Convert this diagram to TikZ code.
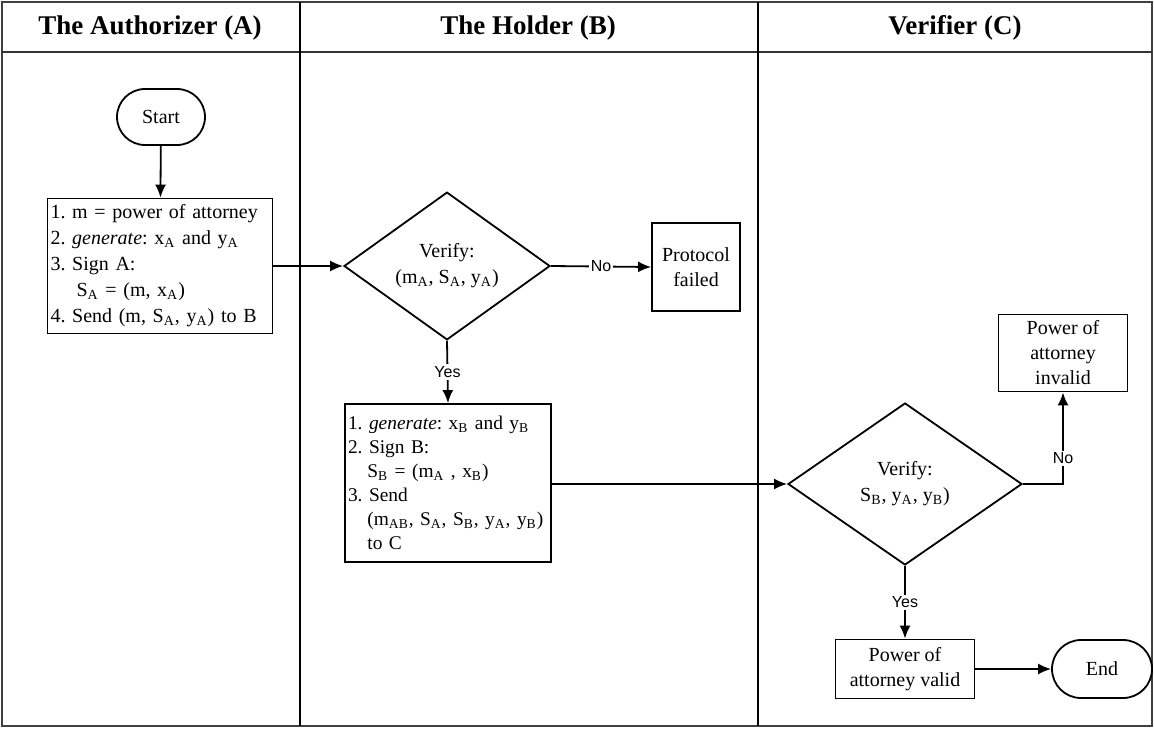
\documentclass[tikz,border=0pt]{standalone}
\usepackage{fontspec}
\setmainfont{Liberation Serif}
\setsansfont{Liberation Sans}
\usetikzlibrary{shapes.geometric,shapes.misc,arrows.meta}
\newcommand{\sbs}[1]{\textsubscript{#1}}
\begin{document}
\frenchspacing
\begin{tikzpicture}[x=0.5pt,y=-0.5pt,
  line width=0.9pt,
  box/.style={draw, rectangle, inner sep=0pt, align=center, font=\fontsize{10}{12.5}\selectfont},
  listbox/.style={draw, rectangle, inner xsep=1.5pt, inner ysep=0pt, align=left, font=\frenchspacing\fontsize{10}{13}\selectfont},
  term/.style={draw, rounded rectangle, inner sep=0pt, font=\fontsize{10}{12}\selectfont},
  dec/.style={draw, diamond, inner sep=0pt, align=center, font=\fontsize{10}{13}\selectfont},
  lbl/.style={fill=white, inner sep=1pt, font=\sffamily\fontsize{8}{9}\selectfont},
  arr/.style={-{Latex[length=6.5pt,width=5.5pt]}},
  head/.style={font=\bfseries\fontsize{13.5}{15}\selectfont}]

\useasboundingbox (0,0) rectangle (1154,728);
\draw[line width=0.6pt, black!75] (2,2) rectangle (1152,726);
\draw[line width=1.3pt, black!80] (2,52) -- (1152,52);
\draw[line width=0.7pt] (300,2) -- (300,726);
\draw[line width=0.7pt] (758,2) -- (758,726);

\node[head] (hA) at (150,28) {The Authorizer (A)};
\node[head] (hB) at (528,28) {The Holder (B)};
\node[head] (hC) at (955,28) {Verifier (C)};

\node[term, minimum width=44pt, minimum height=28pt] (start) at (161,117) {Start};

\node[listbox, text width=109.5pt, minimum height=67.5pt] (A) at (160,266) {%
1. m = power of attorney\\
2. \textit{generate}: x\sbs{A} and y\sbs{A}\\
3. Sign A:\\
\hspace*{1.3em}S\sbs{A} = (m, x\sbs{A})\\
4. Send (m, S\sbs{A}, y\sbs{A}) to B};

\node[dec, minimum width=103pt, minimum height=62pt] (d1) at (447,266) {Verify:\\(m\sbs{A}, S\sbs{A}, y\sbs{A})};

\node[box, minimum width=44pt, minimum height=44pt] (pf) at (696,267) {Protocol\\failed};

\node[listbox, text width=100pt, minimum height=79pt, font=\frenchspacing\fontsize{9.7}{12}\selectfont] (B) at (448,483) {%
1. \textit{generate}: x\sbs{B} and y\sbs{B}\\
2. Sign B:\\
\hspace*{1em}S\sbs{B} = (m\sbs{A} , x\sbs{B})\\
3. Send\\
\hspace*{1em}\mbox{(m\sbs{AB}, S\sbs{A}, S\sbs{B}, y\sbs{A}, y\sbs{B})}\\
\hspace*{1em}to C};

\node[dec, minimum width=117pt, minimum height=81pt] (d2) at (905,484) {Verify:\\S\sbs{B}, y\sbs{A}, y\sbs{B})};

\node[box, minimum width=64.5pt, minimum height=38.5pt] (inv) at (1063,353) {Power of\\attorney\\invalid};

\node[box, minimum width=69.5pt, minimum height=29.5pt] (valid) at (905,669) {Power of\\attorney valid};

\node[term, minimum width=50pt, minimum height=29pt] (end) at (1102,669) {End};

\draw[arr] (start) -- (A);
\draw[arr] (A.east) -- (d1.west);
\draw[arr] (d1.east) -- node[lbl]{No} (pf.west);
\draw[arr] (d1.south) -- node[lbl]{Yes} (B.north);
\draw[arr] (d2.west -| B.east) -- (d2.west);
\draw[arr] (d2.east) -| node[lbl, pos=0.64]{No} (inv.south);
\draw[arr] (d2.south) -- node[lbl]{Yes} (valid.north);
\draw[arr] (valid) -- (end);
\end{tikzpicture}
\end{document}
